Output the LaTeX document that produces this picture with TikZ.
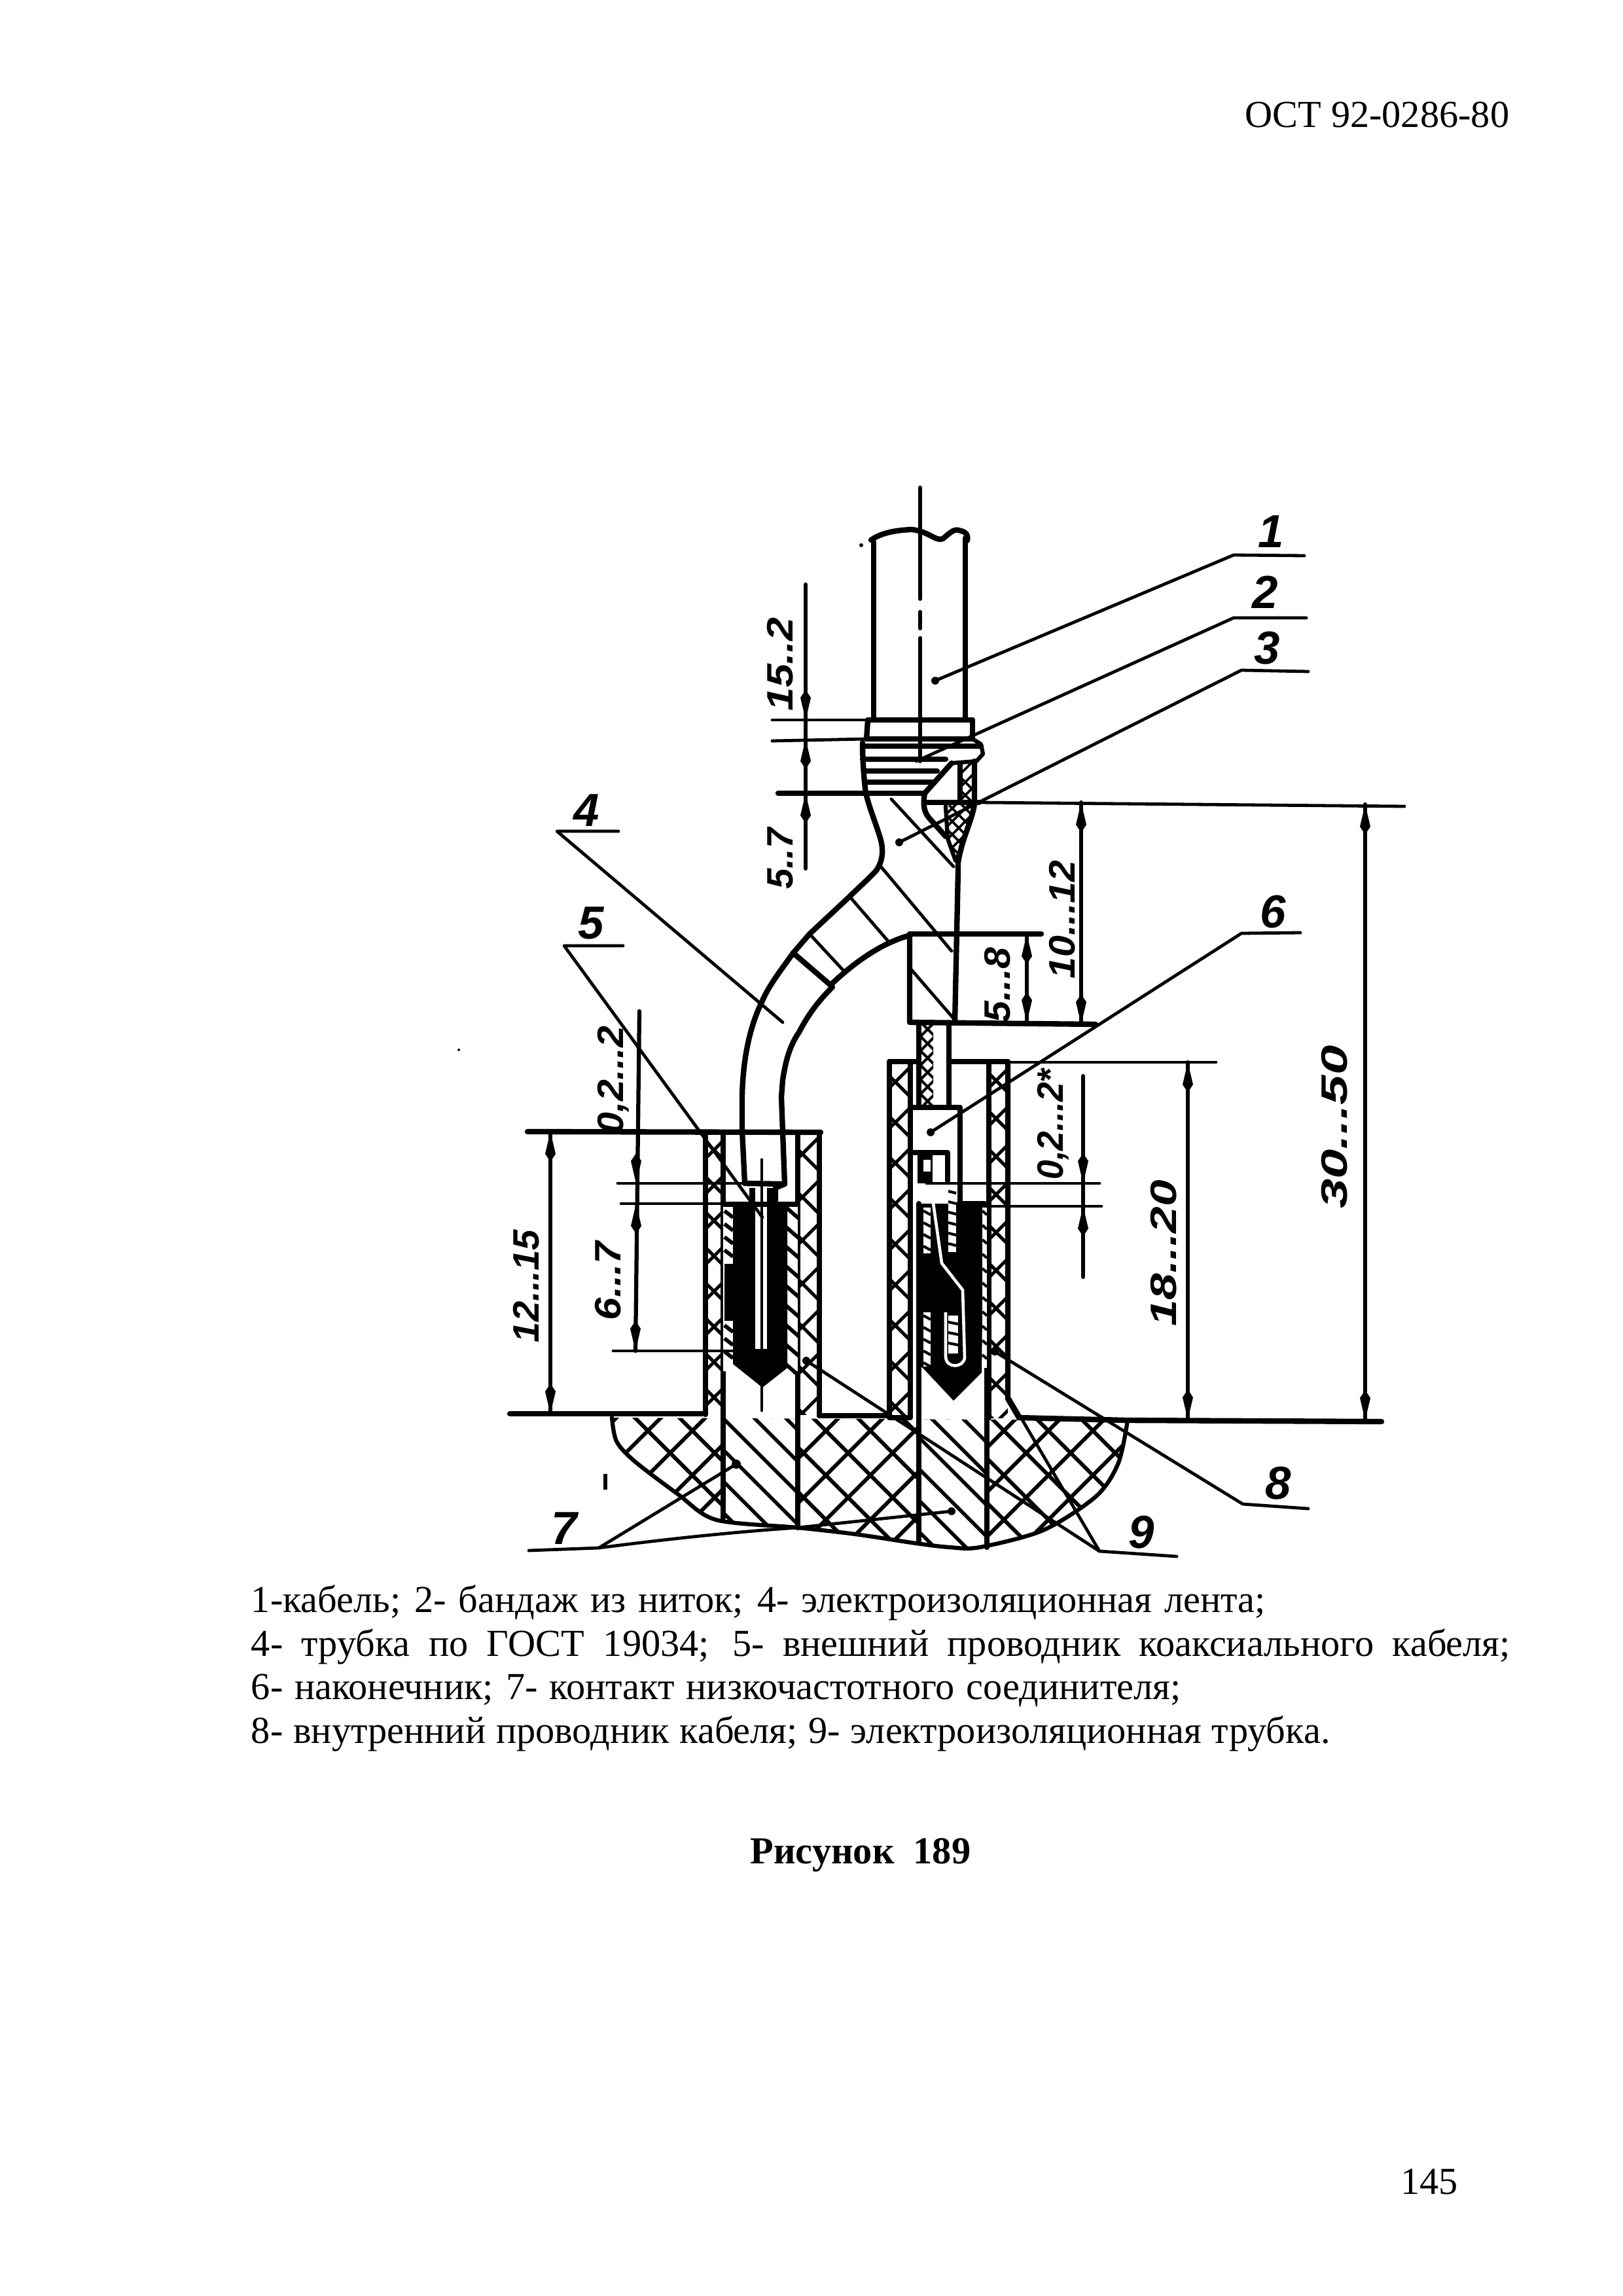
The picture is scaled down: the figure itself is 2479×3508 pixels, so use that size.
\documentclass[tikz,border=0pt]{standalone}
\usepackage{fontspec}
\setmainfont{Liberation Serif}
\newfontfamily\handfont{Liberation Sans Bold Italic}
\tikzset{
 main/.style={line width=2pt,line cap=round,line join=round},
 med/.style={line width=1.5pt,line cap=round,line join=round},
 thin1/.style={line width=1.15pt,line cap=round,line join=round},
 hatchl/.style={line width=1.2pt},
 dimtext/.style={font=\handfont\fontsize{13.5}{13.5}\selectfont,rotate=90,inner sep=0pt},
 numlabel/.style={font=\handfont\fontsize{17}{17}\selectfont,inner sep=0pt},
 bodytext/.style={font=\fontsize{14}{16}\selectfont,inner sep=0pt,anchor=base west}
}
\newcommand{\tipm}[3]{\fill[black] ({#1},{#2})--({#1-8},{#2+(#3)*34})--({#1},{#2+(#3)*46})--({#1+8},{#2+(#3)*34})--cycle;}
\newcommand{\xhatch}[5]{\begin{scope}\clip (#1,#2) rectangle (#3,#4);
 \foreach \c in {0,#5,...,1000}{
  \draw[hatchl] (#1,{#2-40+\c})--(#1+60,{#2+20+\c});
  \draw[hatchl] (#1,{#2+40+\c})--(#1+60,{#2-20+\c});}
 \end{scope}}
\newcommand{\basepath}{plot[smooth,tension=0.5] coordinates {(935,2166)(942,2202)(969,2232)(1036,2283)(1094,2322)(1219,2334)(1307,2344)(1400,2358)(1451,2364)(1497,2364)(1594,2338)(1675,2286)(1709,2235)(1723,2170)}}
\begin{document}
\begin{tikzpicture}[x=0.24pt,y=-0.24pt]
\useasboundingbox (0,0) rectangle (2479,3508);
\fill[white] (0,0) rectangle (2479,3508);
% ---- base cross hatch
\begin{scope}
 \clip \basepath -- cycle;
 \foreach \c in {380,448,...,1500}{\draw[line width=1.4pt] (800,{800+\c})--(1800,{1800+\c});}
 \foreach \c in {3040,3108,...,4200}{\draw[line width=1.4pt] (800,{\c-800})--(1800,{\c-1800});}
 % contacts
 \fill[white] (1105,2090) rectangle (1219,2400);
 \fill[white] (1404,2090) rectangle (1508,2400);
 \begin{scope}\clip (1105,2090) rectangle (1219,2400);
  \foreach \c in {870,918,...,1300}{\draw[line width=1.3pt] (1000,{1000+\c})--(1300,{1300+\c});}
 \end{scope}
 \begin{scope}\clip (1404,2090) rectangle (1508,2400);
  \foreach \c in {600,648,...,1000}{\draw[line width=1.3pt] (1300,{1300+\c})--(1600,{1600+\c});}
 \end{scope}
\end{scope}
\draw[med] \basepath;
% ---- lower walls left tube
\xhatch{1078}{1730}{1105}{2161}{54}
\xhatch{1219}{1730}{1252}{2161}{66}
\xhatch{1359}{1622}{1391}{2166}{62}
\xhatch{1511}{1622}{1540}{2166}{58}
\draw[main] (1078,1730)--(1078,2161);
\draw[main] (1105,1730)--(1105,2319);
\draw[main] (1219,1730)--(1219,2334);
\draw[main] (1252,1730)--(1252,2163);
\draw[main] (806,1729)--(1254,1730);
\draw[main] (779,2160)--(1078,2160);
\draw[main] (1252,2163)--(1359,2163);
% right tube
\draw[main] (1359,1622)--(1359,2166)--(1391,2166)--(1391,1622);
\draw[main] (1511,1622)--(1511,2166);
\draw[main] (1540,1622)--(1540,2137)--(1557,2166);
\draw[main] (1359,1622)--(1404,1622);
\draw[main] (1450,1622)--(1540,1622);
\draw[thin1] (1540,1623)--(1858,1623);
\draw[main] (1557,2166)--(1723,2170)--(2111,2172);
\draw[main] (1404,1839)--(1404,2355);
\draw[main] (1508,1839)--(1508,2364);
% ---- left tube interior, black filling
\fill[white] (1105,1840) rectangle (1219,2095);
\fill[black] (1145,1815)--(1185,1815)--(1185,1840)--(1203,1840)--(1203,2090)--(1165,2120)--(1120,2084)--(1120,2018)--(1107,2018)--(1107,1931)--(1120,1931)--(1120,1840)--(1145,1840)--cycle;
\fill[white] (1154,1815) rectangle (1172,2061);
\draw[line width=1pt,dash pattern=on 80pt off 3pt on 5pt off 3pt] (1164,1770)--(1164,2061);
\draw[thin1] (1164,2110)--(1164,2155);
\begin{scope}\clip (1203,1843) rectangle (1219,2105);
 \foreach \c in {0,30,...,270}{\draw[line width=1.4pt] (1190,{1835+\c})--(1230,{1870+\c});}
\end{scope}
\foreach \y in {1850,1870,...,1925,2025,2045,...,2075}{\draw[line width=1.4pt] (1107,\y)--(1120,{\y+10});}
% cable tail
\draw[main] (1138,1808)--(1199,1809)--(1196,1730)--(1194,1676)--(1196,1650) .. controls (1200,1625) and (1205,1600) .. (1221,1577) .. controls (1235,1550) and (1250,1530) .. (1272,1508);
\draw[main] (1138,1808)--(1134,1727)--(1134,1676) .. controls (1135,1620) and (1145,1570) .. (1164,1531) .. controls (1175,1505) and (1195,1480) .. (1212,1456);
\draw[main] (1199,1809)--(1185,1815)--(1185,1840);
\draw[main] (1105,1840)--(1219,1840);
% ext lines of left dims
\draw[thin1] (944,1808)--(1138,1808);
\draw[thin1] (949,1839)--(1105,1839);
\draw[thin1] (937,2064)--(1120,2064);
% ---- upper assembly
\draw[main] (1331,825) .. controls (1350,812) and (1375,810) .. (1393,809) .. controls (1420,812) and (1430,828) .. (1441,823) .. controls (1450,815) and (1458,808) .. (1464,810) .. controls (1474,812) and (1480,815) .. (1478,826);
\draw[main] (1335,828)--(1335,1100);
\draw[main] (1475,822)--(1475,1100);
\draw[main] (1326,1100)--(1486,1100);
\draw[main] (1326,1100)--(1324,1129);
\draw[main] (1486,1100)--(1486,1129)--(1324,1129);
\draw[thin1] (1180,1100)--(1326,1100);
\draw[thin1] (1180,1132)--(1324,1129);
% bandage
\draw[main] (1318,1135) .. controls (1318,1160) and (1320,1190) .. (1323,1212);
\draw[main] (1318,1140)--(1499,1140);
\draw[main] (1318,1160)--(1445,1160);
\draw[main] (1320,1178)--(1432,1178);
\draw[main] (1321,1195)--(1425,1195);
\draw[main] (1189,1212)--(1413,1212);
\draw[med] (1486,1129)--(1499,1137)--(1502,1152)--(1492,1163)--(1454,1166);
\draw[main] (1454,1166)--(1413,1212) .. controls (1410,1230) and (1412,1240) .. (1419,1249) -- (1445,1278);
\draw[main] (1413,1226)--(1496,1226);
\draw[thin1] (1496,1226)--(2146,1232);
% hatched wedge
\begin{scope}
 \clip (1467,1163)--(1489,1163)--(1489,1229) .. controls (1485,1255) and (1470,1280) .. (1464,1318) -- (1448,1281)--(1445,1232)--(1467,1226)--cycle;
 \foreach \c in {0,20,...,160}{\draw[line width=0.9pt] (1430,{1150+\c})--(1500,{1220+\c});\draw[line width=0.9pt] (1430,{1220+\c})--(1500,{1150+\c});}
\end{scope}
\draw[main] (1467,1166)--(1467,1226);
\draw[main] (1489,1163)--(1489,1229) .. controls (1485,1255) and (1470,1280) .. (1464,1318) -- (1464,1330)--(1459,1562);
\draw[med] (1445,1232)--(1448,1281)--(1460,1315);
% body of tube
\draw[main] (1323,1212) .. controls (1330,1240) and (1340,1262) .. (1346,1284) .. controls (1350,1300) and (1349,1315) .. (1339,1330) .. controls (1325,1345) and (1310,1358) .. (1298,1370) -- (1237,1427)--(1212,1456);
\draw[main] (1212,1456)--(1269,1505) .. controls (1290,1485) and (1335,1445) .. (1387,1430);
\draw[thin1] (1362,1221)--(1457,1324);
\draw[thin1] (1346,1324)--(1454,1453);
\draw[thin1] (1301,1373)--(1358,1439);
\draw[thin1] (1237,1427)--(1288,1482);
% block
\draw[main] (1390,1427)--(1591,1427);
\draw[main] (1390,1427)--(1390,1562)--(1674,1565);
\draw[thin1] (1393,1482)--(1457,1556);
% wire below block
\draw[main] (1404,1563)--(1404,1692);
\draw[main] (1450,1563)--(1450,1692);
\begin{scope}\clip (1408,1563) rectangle (1426,1692);
 \foreach \c in {0,22,...,130}{\draw[line width=1pt] (1405,{1560+\c})--(1430,{1585+\c});\draw[line width=1pt] (1405,{1585+\c})--(1430,{1560+\c});}
\end{scope}
% ---- right tube interior
\draw[main] (1392,1692)--(1467,1692)--(1467,1839);
\draw[main] (1391,1761)--(1448,1761)--(1448,1804);
\fill[black] (1402,1764) rectangle (1425,1808);
\fill[white] (1411,1772) rectangle (1422,1790);
\fill[black] (1404,1839)--(1503,1839)--(1500,2097)--(1457,2140)--(1411,2091)--(1404,2085)--cycle;
\fill[white] (1411,1845) rectangle (1422,1915);
\fill[white] (1411,2005) rectangle (1422,2088);
\foreach \y in {1850,1868,...,1910,2010,2028,...,2082}{\draw[line width=1pt] (1411,\y)--(1422,{\y+6});}
\fill[white] (1501,1845) rectangle (1508,2090);
\foreach \y in {1850,1872,...,2085}{\draw[line width=1pt] (1501,\y)--(1508,{\y+6});}
\fill[white] (1449,1813) rectangle (1461,1913);
\foreach \y in {1820,1836,...,1905}{\draw[line width=1pt] (1449,\y)--(1461,{\y+3});}
\draw[white,line width=1.1pt] (1422,1810)--(1439,1930)--(1471,1971)--(1474,2074) .. controls (1473,2090) and (1445,2092) .. (1445,2072)--(1445,2005);
\fill[white] (1449,2010) rectangle (1464,2068);
\foreach \y in {2020,2036,...,2060}{\draw[line width=1pt] (1449,\y)--(1464,{\y+3});}
\draw[main] (1504,1839)--(1465,1839);
\draw[thin1] (1416,1808)--(1680,1808);
\draw[thin1] (1503,1843)--(1683,1843);
% ---- dimension lines
\draw[med] (1231,893)--(1231,1327);
\tipm{1231}{1100}{-1}\tipm{1231}{1129}{1}\tipm{1231}{1212}{1}
\draw[med] (977,1545)--(971,2064);
\tipm{972}{1808}{-1}\tipm{972}{1839}{1}\tipm{971}{2064}{-1}
\draw[med] (841,1729)--(841,2160);
\tipm{841}{1729}{1}\tipm{841}{2160}{-1}
\draw[med] (1569,1427)--(1569,1562);
\tipm{1569}{1427}{1}\tipm{1569}{1562}{-1}
\draw[med] (1652,1226)--(1652,1565);
\tipm{1652}{1226}{1}\tipm{1652}{1565}{-1}
\draw[med] (2086,1229)--(2086,2170);
\tipm{2086}{1229}{1}\tipm{2086}{2170}{-1}
\draw[med] (1815,1623)--(1815,2169);
\tipm{1815}{1623}{1}\tipm{1815}{2169}{-1}
\draw[med] (1655,1644)--(1655,1951);
\tipm{1655}{1808}{-1}\tipm{1655}{1843}{1}
% ---- centre line
\draw[med] (1406,745)--(1406,915);
\draw[med] (1406,935)--(1406,960);
\draw[med] (1406,975)--(1406,1163);
% ---- leaders
\draw[thin1] (1993,849)--(1885,848)--(1429,1040);
\fill (1429,1040) circle (6);
\draw[thin1] (1996,944)--(1885,944)--(1400,1163);
\draw[thin1] (1999,1026)--(1897,1024)--(1374,1287);
\fill (1374,1287) circle (6);
\draw[thin1] (945,1270)--(851,1270)--(1196,1562);
\draw[thin1] (952,1445)--(862,1445)--(1165,1860);
\draw[thin1] (1987,1425)--(1897,1426)--(1422,1730);
\fill (1422,1730) circle (6);
\draw[thin1] (808,2369)--(915,2365)--(1125,2237);
\fill (1125,2237) circle (7);
\draw[thin1] (915,2365) .. controls (1030,2350) and (1130,2340) .. (1219,2334) -- (1454,2309);
\fill (1454,2309) circle (6);
\draw[thin1] (1999,2305)--(1899,2298)--(1520,2065);
\fill (1520,2065) circle (6);
\draw[thin1] (1798,2378)--(1680,2370)--(1232,2079);
\fill (1232,2079) circle (6);
\draw[thin1] (1680,2370)--(1543,2137);
% ---- specks
\fill (922,2252) rectangle (928,2276);
\fill (1316,833) circle (3);
\fill (701,1604) circle (2);
% ---- labels
\node[numlabel] (l1) at (1942,812) {1};
\node[numlabel] (l2) at (1933,905) {2};
\node[numlabel] (l3) at (1936,990) {3};
\node[numlabel] (l4) at (896,1238) {4};
\node[numlabel] (l5) at (903,1410) {5};
\node[numlabel] (l6) at (1945,1393) {6};
\node[numlabel] (l7) at (862,2335) {7};
\node[numlabel] (l8) at (1953,2266) {8};
\node[numlabel] (l9) at (1744,2341) {9};
\node[dimtext,xscale=1.15] (d1) at (1192,1015) {15..2};
\node[dimtext,xscale=1.0] (d2) at (1192,1312) {5..7};
\node[dimtext,xscale=1.05] (d3) at (1524,1505) {5...8};
\node[dimtext,xscale=1.05] (d4) at (1623,1405) {10...12};
\node[dimtext,xscale=1.05] (d5) at (937,1650) {0,2...2};
\node[dimtext,xscale=1.1] (d6) at (929,1957) {6...7};
\node[dimtext,xscale=1.0] (d7) at (804,1965) {12...15};
\node[dimtext,xscale=1.3] (d8) at (1778,1915) {18...20};
\node[dimtext,xscale=1.45] (d9) at (2039,1722) {30...50};
\node[dimtext,xscale=0.95] (d10) at (1609,1718) {0,2...2*};
% ---- page text
\node[font=\fontsize{14}{16}\selectfont,inner sep=0pt,anchor=base east] (hdr) at (2307,195) {ОСТ 92-0286-80};
\node[bodytext] (t1) at (383,2463) {\makebox[372pt][s]{1-кабель; 2- бандаж из ниток; 4- электроизоляционная лента;}};
\node[bodytext] (t2) at (383,2530) {\makebox[461.8pt][s]{4- трубка по ГОСТ 19034; 5- внешний проводник коаксиального кабеля;}};
\node[bodytext] (t3) at (383,2596) {\makebox[341pt][s]{6- наконечник; 7- контакт низкочастотного соединителя;}};
\node[bodytext] (t4) at (383,2663) {\makebox[395.7pt][s]{8- внутренний проводник кабеля; 9- электроизоляционная трубка.}};
\node[font=\bfseries\fontsize{14}{16}\selectfont,inner sep=0pt,anchor=base] (cap) at (1315,2847) {Рисунок\ \ 189};
\node[font=\fontsize{14}{16}\selectfont,inner sep=0pt,anchor=base] (pg) at (2184,3352) {145};
\end{tikzpicture}
\end{document}
